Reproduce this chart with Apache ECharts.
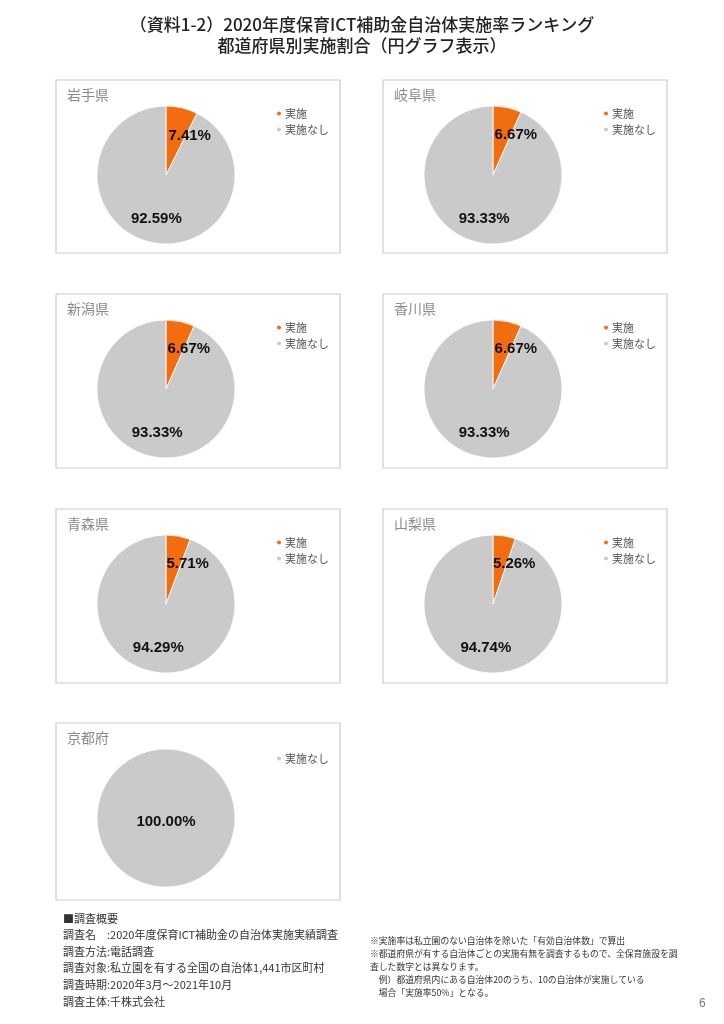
<!DOCTYPE html>
<html><head><meta charset="utf-8">
<script src="https://cdn.jsdelivr.net/npm/echarts@6/dist/echarts.min.js"></script>
<style>html,body{margin:0;padding:0;background:#fff}#c{width:724px;height:1024px}</style>
</head><body><div id="c"></div>
<script>
const mainTitle = ['（資料1-2）2020年度保育ICT補助金自治体実施率ランキング', '都道府県別実施割合（円グラフ表示）'];
const categories = ['実施', '実施なし'];
const prefectures = ['岩手県', '岐阜県', '新潟県', '香川県', '青森県', '山梨県', '京都府'];
const implemented = [7.41, 6.67, 6.67, 6.67, 5.71, 5.26, null];
const notImplemented = [92.59, 93.33, 93.33, 93.33, 94.29, 94.74, 100.00];
const surveyNotes = [
  '■調査概要',
  '調査名　:2020年度保育ICT補助金の自治体実施実績調査',
  '調査方法:電話調査',
  '調査対象:私立園を有する全国の自治体1,441市区町村',
  '調査時期:2020年3月～2021年10月',
  '調査主体:千株式会社'
];
const footNotes = [
  '※実施率は私立園のない自治体を除いた「有効自治体数」で算出',
  '※都道府県が有する自治体ごとの実施有無を調査するもので、全保育施設を調',
  '査した数字とは異なります。',
  '　例）都道府県内にある自治体20のうち、10の自治体が実施している',
  '　場合「実施率50%」となる。'
];
const pageNumber = '6';

const colors = ['#F26D0F', '#CACACA'];
const colX = [56, 383];
const rowY = [80, 294, 509, 723];
const rowH = [173, 174, 174, 177];
const panelW = 284;
const CJK = '"Noto Sans CJK JP", "Noto Sans", sans-serif';
const LAT = '"Liberation Sans", Arial, sans-serif';

const chart = echarts.init(document.getElementById('c'), null, {renderer: 'canvas'});

const titles = [];
const legends = [];
const series = [];
const graphics = [];

mainTitle.forEach((t, i) => {
  graphics.push({type: 'text', left: 'center', top: 16 + i * 21,
    style: {text: t, font: '500 17px ' + CJK, fill: '#222'}});
});

prefectures.forEach((p, i) => {
  const col = i % 2, row = Math.floor(i / 2);
  const px = colX[col], py = rowY[row];
  graphics.push({type: 'rect', shape: {x: px, y: py, width: panelW, height: rowH[row]},
    style: {fill: '#fff', stroke: '#cccccc', lineWidth: 1.2}, z: -1});
  titles.push({text: p, left: px + 6, top: py + 3,
    textStyle: {fontFamily: CJK, fontSize: 14, fontWeight: 'normal', color: '#8a8a8a'}});
  const data = [];
  categories.forEach((c, k) => {
    const v = k === 0 ? implemented[i] : notImplemented[i];
    if (v != null) data.push({name: c, value: v, itemStyle: {color: colors[k]}});
  });
  const single = data.length === 1;
  legends.push({
    data: data.map(d => d.name), orient: 'vertical', left: px + 214,
    top: single ? py + 25 : py + 23, itemGap: 5, icon: 'circle', itemWidth: 6, itemHeight: 6,
    selectedMode: false,
    textStyle: {fontFamily: CJK, fontSize: 11, color: '#555', padding: [0, 0, 0, -2]}
  });
  series.push({
    type: 'pie', center: [px + 110, py + 95], radius: 69, startAngle: 90, clockwise: true,
    silent: true, animation: false, avoidLabelOverlap: false,
    itemStyle: {borderColor: '#fff', borderWidth: 0.8},
    label: {show: true, position: single ? 'center' : 'inside',
      formatter: pp => pp.value.toFixed(2) + '%',
      fontFamily: LAT, fontSize: 15, fontWeight: 'bold', color: '#111'},
    labelLine: {show: false},
    labelLayout: single ? {dy: 4} : (pp => pp.dataIndex === 0 ? {dx: 15, dy: -3} : {dx: -1, dy: 7}),
    emphasis: {disabled: true},
    data: data
  });
});

surveyNotes.forEach((t, i) => {
  graphics.push({type: 'text', left: 63, top: 913 + i * 16.6,
    style: {text: t, font: '11px ' + CJK, fill: '#333'}});
});
footNotes.forEach((t, i) => {
  graphics.push({type: 'text', left: 370, top: 936 + i * 13,
    style: {text: t, font: '8.8px ' + CJK, fill: '#333'}});
});
graphics.push({type: 'text', left: 699, top: 998,
  style: {text: pageNumber, font: '12px ' + LAT, fill: '#777'}});

chart.setOption({
  backgroundColor: '#fff',
  animation: false,
  title: titles,
  legend: legends,
  graphic: graphics,
  series: series
});
</script></body></html>
